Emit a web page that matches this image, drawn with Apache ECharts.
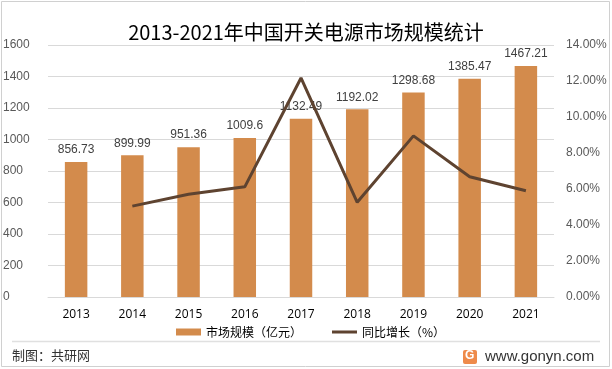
<!DOCTYPE html>
<html>
<head>
<meta charset="utf-8">
<script src="https://cdn.jsdelivr.net/npm/echarts@6/dist/echarts.min.js"></script>
<style>
html,body{margin:0;padding:0;background:#fff;}
#chart{width:612px;height:369px;}
</style>
</head>
<body>
<div id="chart"></div>
<script>
const titleText = '2013-2021年中国开关电源市场规模统计';
const categories = ['2013','2014','2015','2016','2017','2018','2019','2020','2021'];
const marketSize = [856.73, 899.99, 951.36, 1009.6, 1132.49, 1192.02, 1298.68, 1385.47, 1467.21];
const growthRate = [null, 5.05, 5.71, 6.12, 12.17, 5.26, 8.95, 6.68, 5.90];
const seriesNames = ['市场规模（亿元）', '同比增长（%）'];
const sourceText = '制图：共研网';
const siteText = 'www.gonyn.com';

const chart = echarts.init(document.getElementById('chart'));
const cjk = '"Noto Sans CJK SC", "Noto Sans", sans-serif';
chart.setOption({
  animation: false,
  backgroundColor: '#fff',
  textStyle: {fontFamily: cjk},
  title: {
    text: titleText,
    left: 'center',
    top: 17,
    textStyle: {fontSize: 20, fontWeight: 'normal', color: '#000', fontFamily: cjk}
  },
  grid: {left: 40, right: 58, top: 45, bottom: 72},
  legend: {
    left: 171,
    top: 321,
    itemWidth: 25,
    itemHeight: 7,
    itemGap: 30,
    textStyle: {fontSize: 12, color: '#000', fontFamily: cjk},
    data: [
      {name: seriesNames[0], icon: 'rect'},
      {name: seriesNames[1], icon: 'path://M0,0 L0.01,0 M0,7 L0.01,7 M0,2 L25,2 L25,5 L0,5 Z'}
    ]
  },
  xAxis: {
    type: 'category',
    data: categories,
    axisLine: {show: true, lineStyle: {color: '#D9D9D9'}},
    axisTick: {show: false},
    axisLabel: {color: '#000', fontSize: 12, margin: 12, fontFamily: '"Open Sans", "Noto Sans", sans-serif', fontWeight: 500}
  },
  yAxis: [
    {
      type: 'value', min: 0, max: 1600, interval: 200,
      axisLine: {show: false}, axisTick: {show: false},
      axisLabel: {color: '#595959', fontSize: 12, margin: 10, align: 'left', padding: [0,0,0,-35], fontFamily: '"Liberation Sans", sans-serif',
        formatter: v => String(v)},
      splitLine: {lineStyle: {color: '#D9D9D9', width: 1}}
    },
    {
      type: 'value', min: 0, max: 14, interval: 2,
      axisLine: {show: false}, axisTick: {show: false},
      axisLabel: {color: '#595959', fontSize: 12, margin: 12, fontFamily: '"Liberation Sans", sans-serif',
        formatter: v => v.toFixed(2) + '%'},
      splitLine: {show: false}
    }
  ],
  series: [
    {
      name: seriesNames[0],
      type: 'bar',
      data: marketSize,
      barWidth: '40%',
      itemStyle: {color: '#D38B4C'},
      label: {show: true, position: 'top', distance: 6, color: '#404040', fontSize: 12, fontFamily: '"Liberation Sans", sans-serif'}
    },
    {
      name: seriesNames[1],
      type: 'line',
      yAxisIndex: 1,
      data: growthRate,
      symbol: 'none',
      lineStyle: {color: '#5E4330', width: 3},
      itemStyle: {color: '#5E4330'}
    }
  ],
  graphic: [
    {type: 'rect', shape: {x: 1.5, y: 1.5, width: 608, height: 365}, style: {fill: 'none', stroke: '#D0D0D0', lineWidth: 1}, silent: true},
    {type: 'line', shape: {x1: 12, y1: 341.5, x2: 600, y2: 341.5}, style: {stroke: '#E0E0E0', lineWidth: 1.5}},
    {type: 'text', left: 12, top: 349, style: {text: sourceText, fontSize: 13, fill: '#333', fontFamily: cjk}},
    {type: 'rect', shape: {x: 463, y: 350, width: 14, height: 14, r: 2}, style: {fill: '#EE8A4A'}},
    {type: 'text', left: 465, top: 350, style: {text: 'G', fontSize: 12, fontWeight: 'bold', fill: '#fff', fontFamily: '"Liberation Sans", sans-serif'}},
    {type: 'text', left: 485, top: 349, style: {text: siteText, fontSize: 15, fill: '#333', fontFamily: '"Liberation Sans", sans-serif'}}
  ]
});
</script>
</body>
</html>
